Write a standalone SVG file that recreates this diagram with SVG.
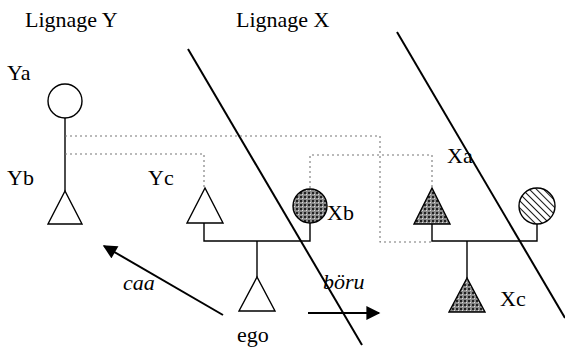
<svg xmlns="http://www.w3.org/2000/svg" width="565" height="347" viewBox="0 0 565 347">
<defs>
<style>
.node{stroke:#000;stroke-width:1.4;fill:#fff}
.dark{fill:url(#checker)}
.hatch{fill:url(#hatch)}
.solid{stroke:#000;stroke-width:1.4;fill:none}
.dot{stroke:#777;stroke-width:1.1;fill:none;stroke-dasharray:2 3}
.diag{stroke:#000;stroke-width:2;fill:none}
.arr{stroke:#000;stroke-width:2;fill:none;marker-end:url(#ah)}
</style>
<pattern id="checker" width="4" height="4" patternUnits="userSpaceOnUse">
<rect width="4" height="4" fill="#8a8a8a"/>
<rect width="2" height="2" fill="#222"/>
<rect x="2" y="2" width="1" height="1" fill="#ddd"/>
</pattern>
<pattern id="hatch" width="5" height="5" patternUnits="userSpaceOnUse" patternTransform="rotate(-45)">
<rect width="5" height="5" fill="#fff"/>
<line x1="0" y1="0" x2="0" y2="5" stroke="#000" stroke-width="1.8"/>
</pattern>
<marker id="ah" viewBox="0 0 10 10" refX="9" refY="5" markerWidth="8" markerHeight="7" orient="auto" markerUnits="strokeWidth">
<path d="M0,0 L10,5 L0,10 z" fill="#000"/>
</marker>
</defs>

<g id="boundaries">
<line class="diag" x1="188" y1="49" x2="362" y2="345"/>
<line class="diag" x1="397" y1="32" x2="565" y2="318"/>
</g>

<g id="connectors">
<line class="solid" x1="65" y1="118" x2="65" y2="191"/>
<polyline class="dot" points="65,136 380,136 380,242 432,242"/>
<polyline class="dot" points="65,154 204,154 204,188"/>
<polyline class="dot" points="310,188 310,155 432,155 432,188"/>
<polyline class="solid" points="204,223 204,241 310,241 310,223"/>
<line class="solid" x1="257" y1="241" x2="257" y2="277"/>
<polyline class="solid" points="432,224 432,241 537,241 537,224"/>
<line class="solid" x1="467" y1="241" x2="467" y2="278"/>
<line class="arr" x1="223" y1="315" x2="104" y2="246"/>
<line class="arr" x1="308" y1="313" x2="379" y2="313"/>
</g>

<g id="Ya"><circle class="node" cx="65" cy="101" r="17"/></g>
<g id="Yb"><polygon class="node" points="65,191 48,224 82,224"/></g>
<g id="Yc"><polygon class="node" points="205,188 187,223 223,223"/></g>
<g id="Xb"><circle class="node dark" cx="310" cy="206" r="17"/></g>
<g id="ego"><polygon class="node" points="257,277 239,311 275,311"/></g>
<g id="Xa"><polygon class="node dark" points="432,188 414,224 450,224"/></g>
<g id="Xa-wife"><circle class="node hatch" cx="537" cy="206" r="18"/></g>
<g id="Xc"><polygon class="node dark" points="467,278 449,312 485,312"/></g>

<g id="labels">
<text x="25" y="27" font-family="Liberation Serif" font-size="22">Lignage Y</text>
<text x="236" y="27" font-family="Liberation Serif" font-size="22">Lignage X</text>
<text x="7" y="80" font-family="Liberation Serif" font-size="22">Ya</text>
<text x="7" y="185" font-family="Liberation Serif" font-size="22">Yb</text>
<text x="148" y="185" font-family="Liberation Serif" font-size="22">Yc</text>
<text x="447" y="163" font-family="Liberation Serif" font-size="22">Xa</text>
<text x="327" y="220" font-family="Liberation Serif" font-size="22">Xb</text>
<text x="500" y="306" font-family="Liberation Serif" font-size="22">Xc</text>
<text x="237" y="342" font-family="Liberation Serif" font-size="22">ego</text>
<text x="123" y="290" font-family="Liberation Serif" font-size="22" font-style="italic">caa</text>
<text x="323" y="289" font-family="Liberation Serif" font-size="22" font-style="italic">böru</text>
</g>
</svg>
